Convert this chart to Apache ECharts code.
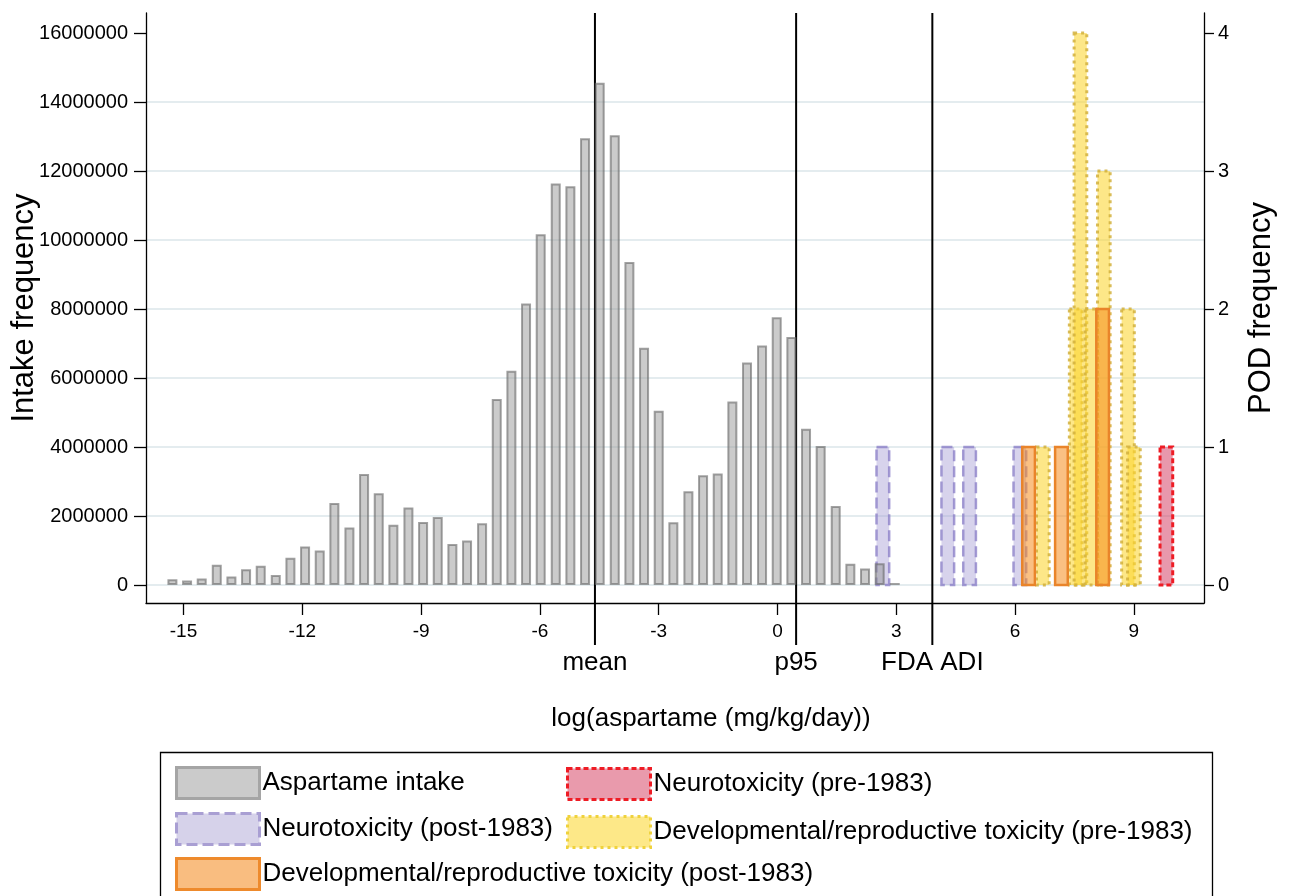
<!DOCTYPE html>
<html>
<head>
<meta charset="utf-8">
<script src="https://cdn.jsdelivr.net/npm/echarts@6/dist/echarts.min.js"></script>
<style>
html,body{margin:0;padding:0;background:#fff;}
#chart{width:1290px;height:896px;}
</style>
</head>
<body>
<div id="chart"></div>
<script>
// ---------------- DATA ----------------
// Histogram bin centres, log(aspartame (mg/kg/day))
const binCenters = [-15.28,-14.91,-14.54,-14.16,-13.79,-13.42,-13.05,-12.67,-12.30,-11.93,
  -11.56,-11.19,-10.81,-10.44,-10.07,-9.70,-9.32,-8.95,-8.58,-8.21,
  -7.84,-7.46,-7.09,-6.72,-6.35,-5.98,-5.60,-5.23,-4.86,-4.49,
  -4.11,-3.74,-3.37,-3.00,-2.63,-2.25,-1.88,-1.51,-1.14,-0.77,
  -0.39,-0.02,0.35,0.72,1.09,1.47,1.84,2.21,2.58,2.96];
// Intake frequency per bin
const intakeFreq = [170000,130000,190000,590000,250000,460000,560000,290000,790000,1120000,
  1000000,2380000,1670000,3220000,2660000,1750000,2250000,1830000,1970000,1190000,
  1290000,1790000,5390000,6210000,8160000,10170000,11640000,11560000,12950000,14560000,
  13040000,9360000,6880000,5050000,1820000,2720000,3180000,3230000,5320000,6450000,
  6940000,7760000,7190000,4530000,4030000,2290000,620000,480000,630000,60000];

// POD histograms: [log value, count]
const neuroPre  = [[9.82,1]];
const neuroPost = [[2.66,1],[4.30,1],[4.85,1],[6.12,1]];
const devPre    = [[6.70,1],[7.53,2],[7.65,4],[7.93,2],[8.24,3],[8.85,2],[9.00,1]];
const devPost   = [[6.34,1],[7.17,1],[8.21,2]];

// Reference lines
const refValues = [-4.61, 0.47, 3.91];
const refLabels = ['mean', 'p95', 'FDA ADI'];

// Tick labels
const xTicks = [-15,-12,-9,-6,-3,0,3,6,9];
const leftTicks = [0,2000000,4000000,6000000,8000000,10000000,12000000,14000000,16000000];
const gridTicks = [0,2000000,4000000,6000000,8000000,10000000,12000000,14000000];
const rightTicks = [0,1,2,3,4];

// ---------------- LAYOUT ----------------
const FONT = "'Liberation Sans', Arial, Helvetica, sans-serif";
const X_MIN = -15.947, X_MAX = 10.77;
const Y_MIN = -520000, Y_MAX = 16580000;
const POD_SCALE = 4000000;   // 1 POD on right axis == 4,000,000 on left axis
const POD_HALF = 0.16;
const REF_BOTTOM = 645, REF_LABEL_Y = 663;

function podRender(style) {
  return function (params, api) {
    const x = api.value(0), h = api.value(1);
    const a = api.coord([x - POD_HALF, 0]);
    const b = api.coord([x + POD_HALF, h]);
    return {
      type: 'rect',
      shape: { x: a[0], y: b[1], width: b[0] - a[0], height: a[1] - b[1] },
      style: style
    };
  };
}

const styles = {
  neuroPre:  { fill: 'rgba(210,50,90,0.5)', stroke: '#ee1c25', lineWidth: 3, lineDash: [5, 3] },
  neuroPost: { fill: 'rgba(160,150,210,0.42)', stroke: 'rgba(140,128,200,0.78)', lineWidth: 2.5, lineDash: [11, 5] },
  devPre:    { fill: 'rgba(252,214,50,0.58)', stroke: 'rgba(210,176,60,0.85)', lineWidth: 3, lineDash: [3, 4] },
  devPost:   { fill: 'rgba(246,140,30,0.55)', stroke: '#e9842a', lineWidth: 2.5 }
};

const names = {
  intake: 'Aspartame intake',
  neuroPre: 'Neurotoxicity (pre-1983)',
  neuroPost: 'Neurotoxicity (post-1983)',
  devPre: 'Developmental/reproductive toxicity (pre-1983)',
  devPost: 'Developmental/reproductive toxicity (post-1983)'
};

function legendAt(name, left, top, itemStyle) {
  return {
    show: true, left: left, top: top, orient: 'horizontal',
    itemWidth: 83, itemHeight: 31, padding: 0, itemGap: 0,
    selectedMode: false,
    textStyle: { fontSize: 26, color: '#000', fontFamily: FONT, padding: [0, 0, 0, -2] },
    data: [{ name: name, icon: 'rect', itemStyle: itemStyle }]
  };
}

const chart = echarts.init(document.getElementById('chart'), null, { renderer: 'canvas' });

const axisLineStyle = { color: '#000', width: 1.3 };

const option = {
  animation: false,
  backgroundColor: '#fff',
  textStyle: { fontFamily: FONT },
  title: {
    text: 'log(aspartame (mg/kg/day))',
    left: 706, top: 701, textAlign: 'center',
    textStyle: { fontSize: 26, fontWeight: 'normal', color: '#000', fontFamily: FONT }
  },
  grid: { left: 146, right: 1290 - 1204, top: 13, bottom: 896 - 603, containLabel: false, outerBoundsMode: 'none' },
  legend: [
    legendAt(names.intake, 175, 766, { color: '#cbcbcb', borderColor: '#a5a5a5', borderWidth: 3 }),
    legendAt(names.neuroPre, 566, 767, { color: '#e99aac', borderColor: '#ee1c25', borderWidth: 3, borderType: [5, 3] }),
    legendAt(names.neuroPost, 175, 812, { color: '#d6d2ea', borderColor: '#a99fd3', borderWidth: 3, borderType: [11, 5] }),
    legendAt(names.devPre, 566, 815, { color: '#fde888', borderColor: '#efd23c', borderWidth: 3, borderType: [3, 4] }),
    legendAt(names.devPost, 175, 857, { color: '#f9bd80', borderColor: '#ee8a2c', borderWidth: 3 })
  ],
  graphic: [{
    type: 'rect', silent: true,
    shape: { x: 160.5, y: 752.5, width: 1052, height: 160 },
    style: { fill: 'none', stroke: '#000', lineWidth: 1.3 }
  }],
  xAxis: {
    type: 'value', min: X_MIN, max: X_MAX,
    axisLine: { show: true, onZero: false, lineStyle: axisLineStyle },
    axisTick: { show: true, length: 12, customValues: xTicks, lineStyle: axisLineStyle },
    axisLabel: { customValues: xTicks, fontSize: 19, color: '#000', margin: 19, fontFamily: FONT },
    splitLine: { show: false }
  },
  yAxis: [
    {
      type: 'value', position: 'left', min: Y_MIN, max: Y_MAX,
      name: 'Intake frequency', nameLocation: 'middle', nameGap: 106, nameMoveOverlap: false,
      nameTextStyle: { fontSize: 31, color: '#000', fontFamily: FONT },
      axisLine: { show: true, onZero: false, lineStyle: axisLineStyle },
      axisTick: { show: true, length: 12, customValues: leftTicks, lineStyle: axisLineStyle },
      axisLabel: { customValues: leftTicks, fontSize: 20, color: '#000', margin: 18, fontFamily: FONT,
        formatter: function (v) { return String(Math.round(v)); } },
      splitLine: { show: false }
    },
    {
      type: 'value', position: 'right', min: Y_MIN / POD_SCALE, max: Y_MAX / POD_SCALE,
      name: 'POD frequency', nameLocation: 'middle', nameGap: 42,
      nameTextStyle: { fontSize: 31, color: '#000', fontFamily: FONT },
      axisLine: { show: true, onZero: false, lineStyle: axisLineStyle },
      axisTick: { show: true, length: 10, customValues: rightTicks, lineStyle: axisLineStyle },
      axisLabel: { customValues: rightTicks, fontSize: 20, color: '#000', margin: 14, fontFamily: FONT },
      splitLine: { show: false }
    },
    {
      type: 'value', position: 'left', min: Y_MIN, max: Y_MAX,
      axisLine: { show: false, onZero: false },
      axisTick: { show: false, customValues: gridTicks },
      axisLabel: { show: false, customValues: gridTicks },
      splitLine: { show: true, lineStyle: { color: '#e4ecef', width: 2 } }
    }
  ],
  series: [
    {
      name: names.intake, type: 'bar', xAxisIndex: 0, yAxisIndex: 0,
      barWidth: 10,
      itemStyle: { color: 'rgba(152,152,152,0.5)', borderColor: 'rgba(105,105,105,0.62)', borderWidth: 2 },
      data: binCenters.map(function (x, i) { return [x, intakeFreq[i]]; })
    },
    {
      name: names.neuroPre, type: 'custom', xAxisIndex: 0, yAxisIndex: 1, clip: false,
      itemStyle: { color: '#e99aac' },
      renderItem: podRender(styles.neuroPre), data: neuroPre
    },
    {
      name: names.neuroPost, type: 'custom', xAxisIndex: 0, yAxisIndex: 1, clip: false,
      itemStyle: { color: '#d6d2ea' },
      renderItem: podRender(styles.neuroPost), data: neuroPost
    },
    {
      name: names.devPre, type: 'custom', xAxisIndex: 0, yAxisIndex: 1, clip: false,
      itemStyle: { color: '#fde888' },
      renderItem: podRender(styles.devPre), data: devPre
    },
    {
      name: names.devPost, type: 'custom', xAxisIndex: 0, yAxisIndex: 1, clip: false,
      itemStyle: { color: '#f9bd80' },
      renderItem: podRender(styles.devPost), data: devPost
    },
    {
      name: 'reference', type: 'custom', xAxisIndex: 0, yAxisIndex: 0, clip: false, silent: true,
      renderItem: function (params, api) {
        const x = api.coord([api.value(0), 0])[0];
        const top = params.coordSys.y;
        return {
          type: 'group',
          children: [
            { type: 'line', shape: { x1: x, y1: top, x2: x, y2: REF_BOTTOM }, style: { stroke: '#000', lineWidth: 2 } },
            { type: 'text', x: x, y: REF_LABEL_Y,
              style: { text: refLabels[params.dataIndex], align: 'center', verticalAlign: 'middle',
                fontSize: 26, fontFamily: FONT, fill: '#000' } }
          ]
        };
      },
      data: refValues.map(function (v) { return [v, 0]; })
    }
  ]
};

chart.setOption(option);
</script>
</body>
</html>
